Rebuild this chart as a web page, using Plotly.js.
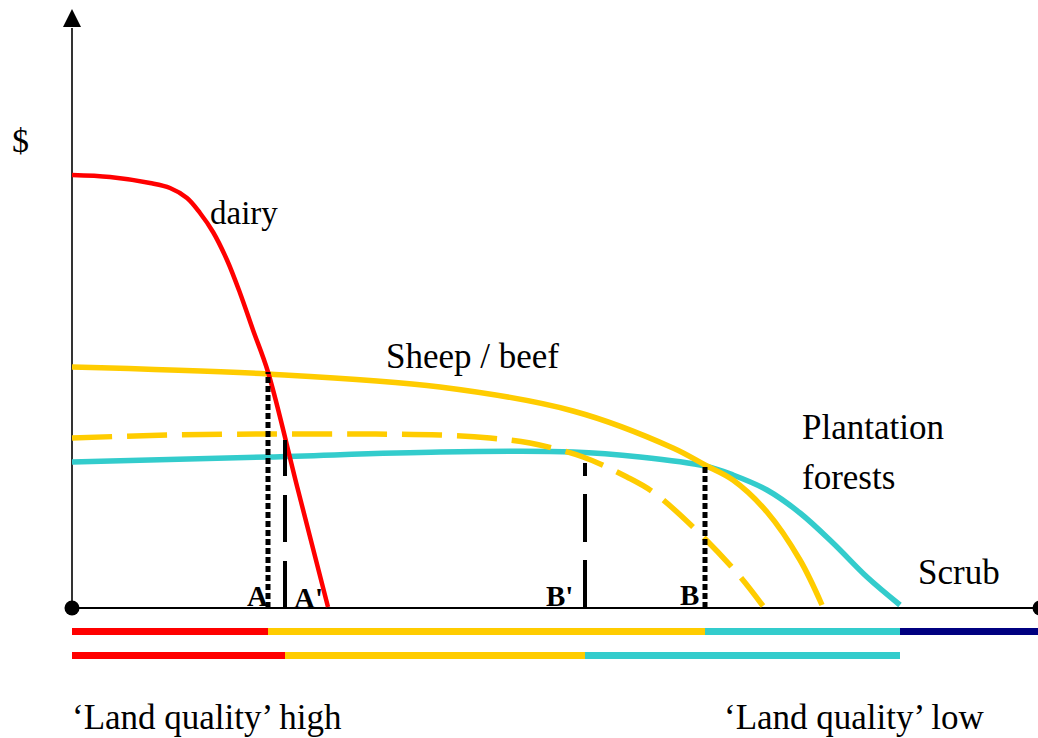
<!DOCTYPE html>
<html>
<head>
<meta charset="utf-8">
<script src="https://cdn.plot.ly/plotly-3.0.1.min.js"></script>
<style>html,body{margin:0;padding:0;background:#fff;}#chart{width:1038px;height:738px;}</style>
</head>
<body>
<div id="chart"></div>
<script>
// Units: x = land rank (high quality at 0 -> low), y = $ (arbitrary units)
const dairyX = [0, 3.8, 7.8, 9.8, 11.5, 12.8, 14.1, 15.5, 16.8, 18.1, 19.6, 22.6, 25.6];
const dairyY = [43.3, 43.1, 42.5, 42.0, 41.0, 39.5, 37.6, 34.8, 31.5, 27.8, 23.6, 11.8, 0.1];

const sheepX = [0, 19.6, 36.8, 50.1, 60.1, 63.3, 66.1, 69.5, 72.8, 75.0];
const sheepY = [24.1, 23.4, 22.1, 19.7, 16.0, 14.3, 12.8, 9.6, 4.8, 0.3];

const sheepNewX = [0, 9.8, 19.6, 28.8, 36.8, 41.8, 45.8, 51.1, 55.5, 58.1, 62.1, 66.5, 69.1];
const sheepNewY = [17.0, 17.3, 17.4, 17.4, 17.3, 17.0, 16.5, 15.1, 13.1, 11.6, 8.1, 3.5, 0.2];

const forestX = [0, 19.6, 36.8, 50.1, 56.8, 63.3, 66.1, 69.5, 72.8, 76.1, 79.5, 82.8];
const forestY = [14.6, 15.1, 15.6, 15.6, 15.1, 14.2, 13.3, 11.8, 9.5, 6.5, 3.1, 0.3];

// Boundaries A, A', B', B (x) and heights where curves cross
const A = 19.6, A_h = 23.6;
const Ap = 21.3, Ap_h = 16.8;
const Bp = 51.3, Bp_h = 14.5;
const B = 63.3, B_h = 14.3;

const xMax = 96.8, yTop = 59.9, yAxisEnd = 58.0;

// Land-use bands: before change (row 1) and after change (row 2)
const band1Edges = [0, A, B, 82.8, 96.8];
const band1Colors = ['#ff0000', '#ffcc00', '#33cccc', '#000080'];
const band2Edges = [0, Ap, Bp, 82.8];
const band2Colors = ['#ff0000', '#ffcc00', '#33cccc'];
const band1Y = -2.35, band2Y = -4.75;

const RED = '#ff0000', YEL = '#ffcc00', CYA = '#33cccc';

const traces = [];
// axes
traces.push({x: [0, xMax], y: [0, 0], mode: 'lines', line: {color: '#000', width: 2}, hoverinfo: 'skip'});
traces.push({x: [0, 0], y: [0, yAxisEnd], mode: 'lines', line: {color: '#000', width: 1.6}, hoverinfo: 'skip'});
traces.push({x: [0], y: [yTop], mode: 'markers', marker: {symbol: 'arrow-up', size: 18, color: '#000', line: {width: 0}}, hoverinfo: 'skip'});
traces.push({x: [0, 96.8], y: [0, 0], mode: 'markers', marker: {symbol: 'circle', size: 15, color: '#000'}, hoverinfo: 'skip'});

// bands
function addBand(edges, colors, y) {
  for (let i = 0; i < colors.length; i++) {
    traces.push({x: [edges[i], edges[i + 1]], y: [y, y], mode: 'lines',
      line: {color: colors[i], width: 7}, hoverinfo: 'skip'});
  }
}
addBand(band1Edges, band1Colors, band1Y);
addBand(band2Edges, band2Colors, band2Y);

// curves
traces.push({x: forestX, y: forestY, mode: 'lines', line: {color: CYA, width: 5.5, shape: 'spline'}});
traces.push({x: sheepNewX, y: sheepNewY, mode: 'lines', line: {color: YEL, width: 5.5, shape: 'spline', dash: '40px,15px'}});
traces.push({x: sheepX, y: sheepY, mode: 'lines', line: {color: YEL, width: 5.5, shape: 'spline'}});
traces.push({x: dairyX, y: dairyY, mode: 'lines', line: {color: RED, width: 4.5, shape: 'spline'}});

// boundary verticals
traces.push({x: [A, A], y: [0, A_h], mode: 'lines', line: {color: '#000', width: 5, dash: '6px,3px'}});
traces.push({x: [Ap, Ap], y: [0, Ap_h], mode: 'lines', line: {color: '#000', width: 4, dash: '47px,19px'}});
traces.push({x: [Bp, Bp], y: [0, Bp_h], mode: 'lines', line: {color: '#000', width: 4, dash: '48px,18px'}});
traces.push({x: [B, B], y: [0, B_h], mode: 'lines', line: {color: '#000', width: 5, dash: '6px,3px'}});

const serif = 'Liberation Serif';
function ann(text, x, y, size, opts) {
  return Object.assign({text: text, x: x, y: y, xref: 'x', yref: 'y', showarrow: false,
    font: {family: serif, size: size, color: '#000'}, xanchor: 'center', yanchor: 'middle'}, opts || {});
}
const annotations = [
  ann('$', -5.2, 46.8, 34),
  ann('dairy', 17.2, 39.5, 33),
  ann('Sheep / beef', 40.0, 25.2, 35),
  ann('Plantation', 72.8, 18.1, 35, {xanchor: 'left'}),
  ann('forests', 72.8, 13.1, 35, {xanchor: 'left'}),
  ann('Scrub', 88.7, 3.6, 35),
  ann('\u2018Land quality\u2019 high', 13.5, -10.9, 35),
  ann('\u2018Land quality\u2019 low', 78.2, -10.9, 35),
  ann('<b>A</b>', 18.5, 1.2, 29),
  ann('<b>A\'</b>', 23.6, 1.0, 29),
  ann('<b>B\'</b>', 48.7, 1.2, 29),
  ann('<b>B</b>', 61.7, 1.3, 29)
];

const layout = {
  width: 1038, height: 738,
  margin: {l: 0, r: 0, t: 0, b: 0},
  paper_bgcolor: '#fff', plot_bgcolor: '#fff',
  showlegend: false,
  font: {family: serif},
  xaxis: {range: [-7.2, 96.6], visible: false, fixedrange: true},
  yaxis: {range: [-13.0, 60.8], visible: false, fixedrange: true},
  annotations: annotations
};
Plotly.newPlot('chart', traces, layout, {staticPlot: true, displayModeBar: false});
</script>
</body>
</html>
